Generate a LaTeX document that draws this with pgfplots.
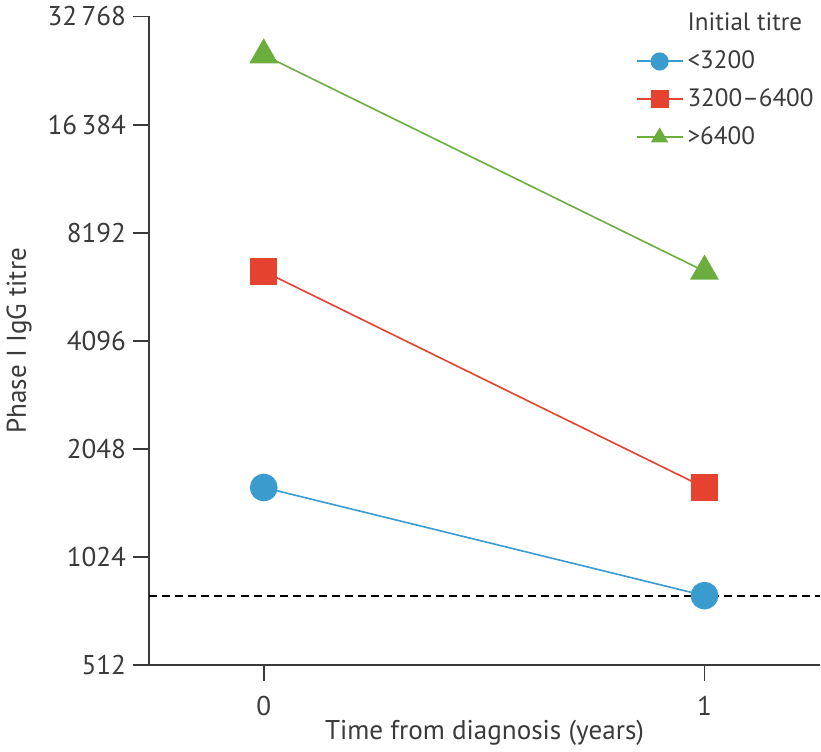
\documentclass[border=0pt]{standalone}
\usepackage{fontspec}
\setmainfont{PT Sans}
\usepackage{pgfplots}
\pgfplotsset{compat=1.18}
\definecolor{cBlue}{HTML}{3A9BCF}
\definecolor{cRed}{HTML}{E5422F}
\definecolor{cGreen}{HTML}{6CAE3E}
\definecolor{axgray}{HTML}{3A3A3A}

\begin{document}
\begin{tikzpicture}
\begin{axis}[
    scale only axis,
    width=334pt, height=323pt,
    ymode=log, log basis y=2,
    xmin=-0.26, xmax=1.262,
    ymin=512, ymax=32768,
    axis x line=bottom, axis y line=left,
    axis line style={-, axgray, line width=1pt},
    tick style={axgray, line width=0.9pt},
    tick align=outside, major tick length=8pt,
    xtick={0,1},
    ytick={512,1024,2048,4096,8192,16384,32768},
    yticklabels={512,1024,2048,4096,8192,16\,384,32\,768},
    /pgf/number format/assume math mode=true,
    ticklabel style={font=\fontsize{13.5}{15}\selectfont, text=axgray},
    xticklabel style={yshift=-4pt},
    label style={font=\fontsize{13.5}{15}\selectfont, text=axgray},
    xlabel={Time from diagnosis (years)},
    ylabel={Phase I IgG titre},
    xlabel style={yshift=5pt},
    ylabel style={yshift=1pt},
    legend image code/.code={
        \draw[mark repeat=2, mark phase=2]
        plot coordinates {(0cm,0cm) (0.4cm,0cm) (0.8cm,0cm)};},
    legend style={draw=none, fill=none, at={(rel axis cs:1.0,1.015)}, anchor=north east,
        inner sep=1pt,
        font=\fontsize{12.5}{14}\selectfont, text=axgray, row sep=4.5pt,
        legend cell align=left},
    legend image post style={mark size=4pt, line width=1pt},
]
\addlegendimage{empty legend}
\addlegendentry{Initial titre}
\addplot[cBlue, line width=0.8pt, mark=*, mark size=6.5pt, mark options={fill=cBlue, draw=cBlue}]
    coordinates {(0,1600)(1,800)};
\addlegendentry{<3200}
\addplot[cRed, line width=0.8pt, mark=square*, mark size=6.2pt, mark options={fill=cRed, draw=cRed}]
    coordinates {(0,6400)(1,1600)};
\addlegendentry{3200--6400}
\addplot[cGreen, line width=0.8pt, mark=triangle*, mark size=7.5pt, mark options={fill=cGreen, draw=cGreen}]
    coordinates {(0,25600)(1,6400)};
\addlegendentry{>6400}
\addplot[black, line width=0.9pt, dash pattern=on 4pt off 2.5pt, forget plot]
    coordinates {(-0.26,800)(1.262,800)};
\end{axis}
\end{tikzpicture}
\end{document}
